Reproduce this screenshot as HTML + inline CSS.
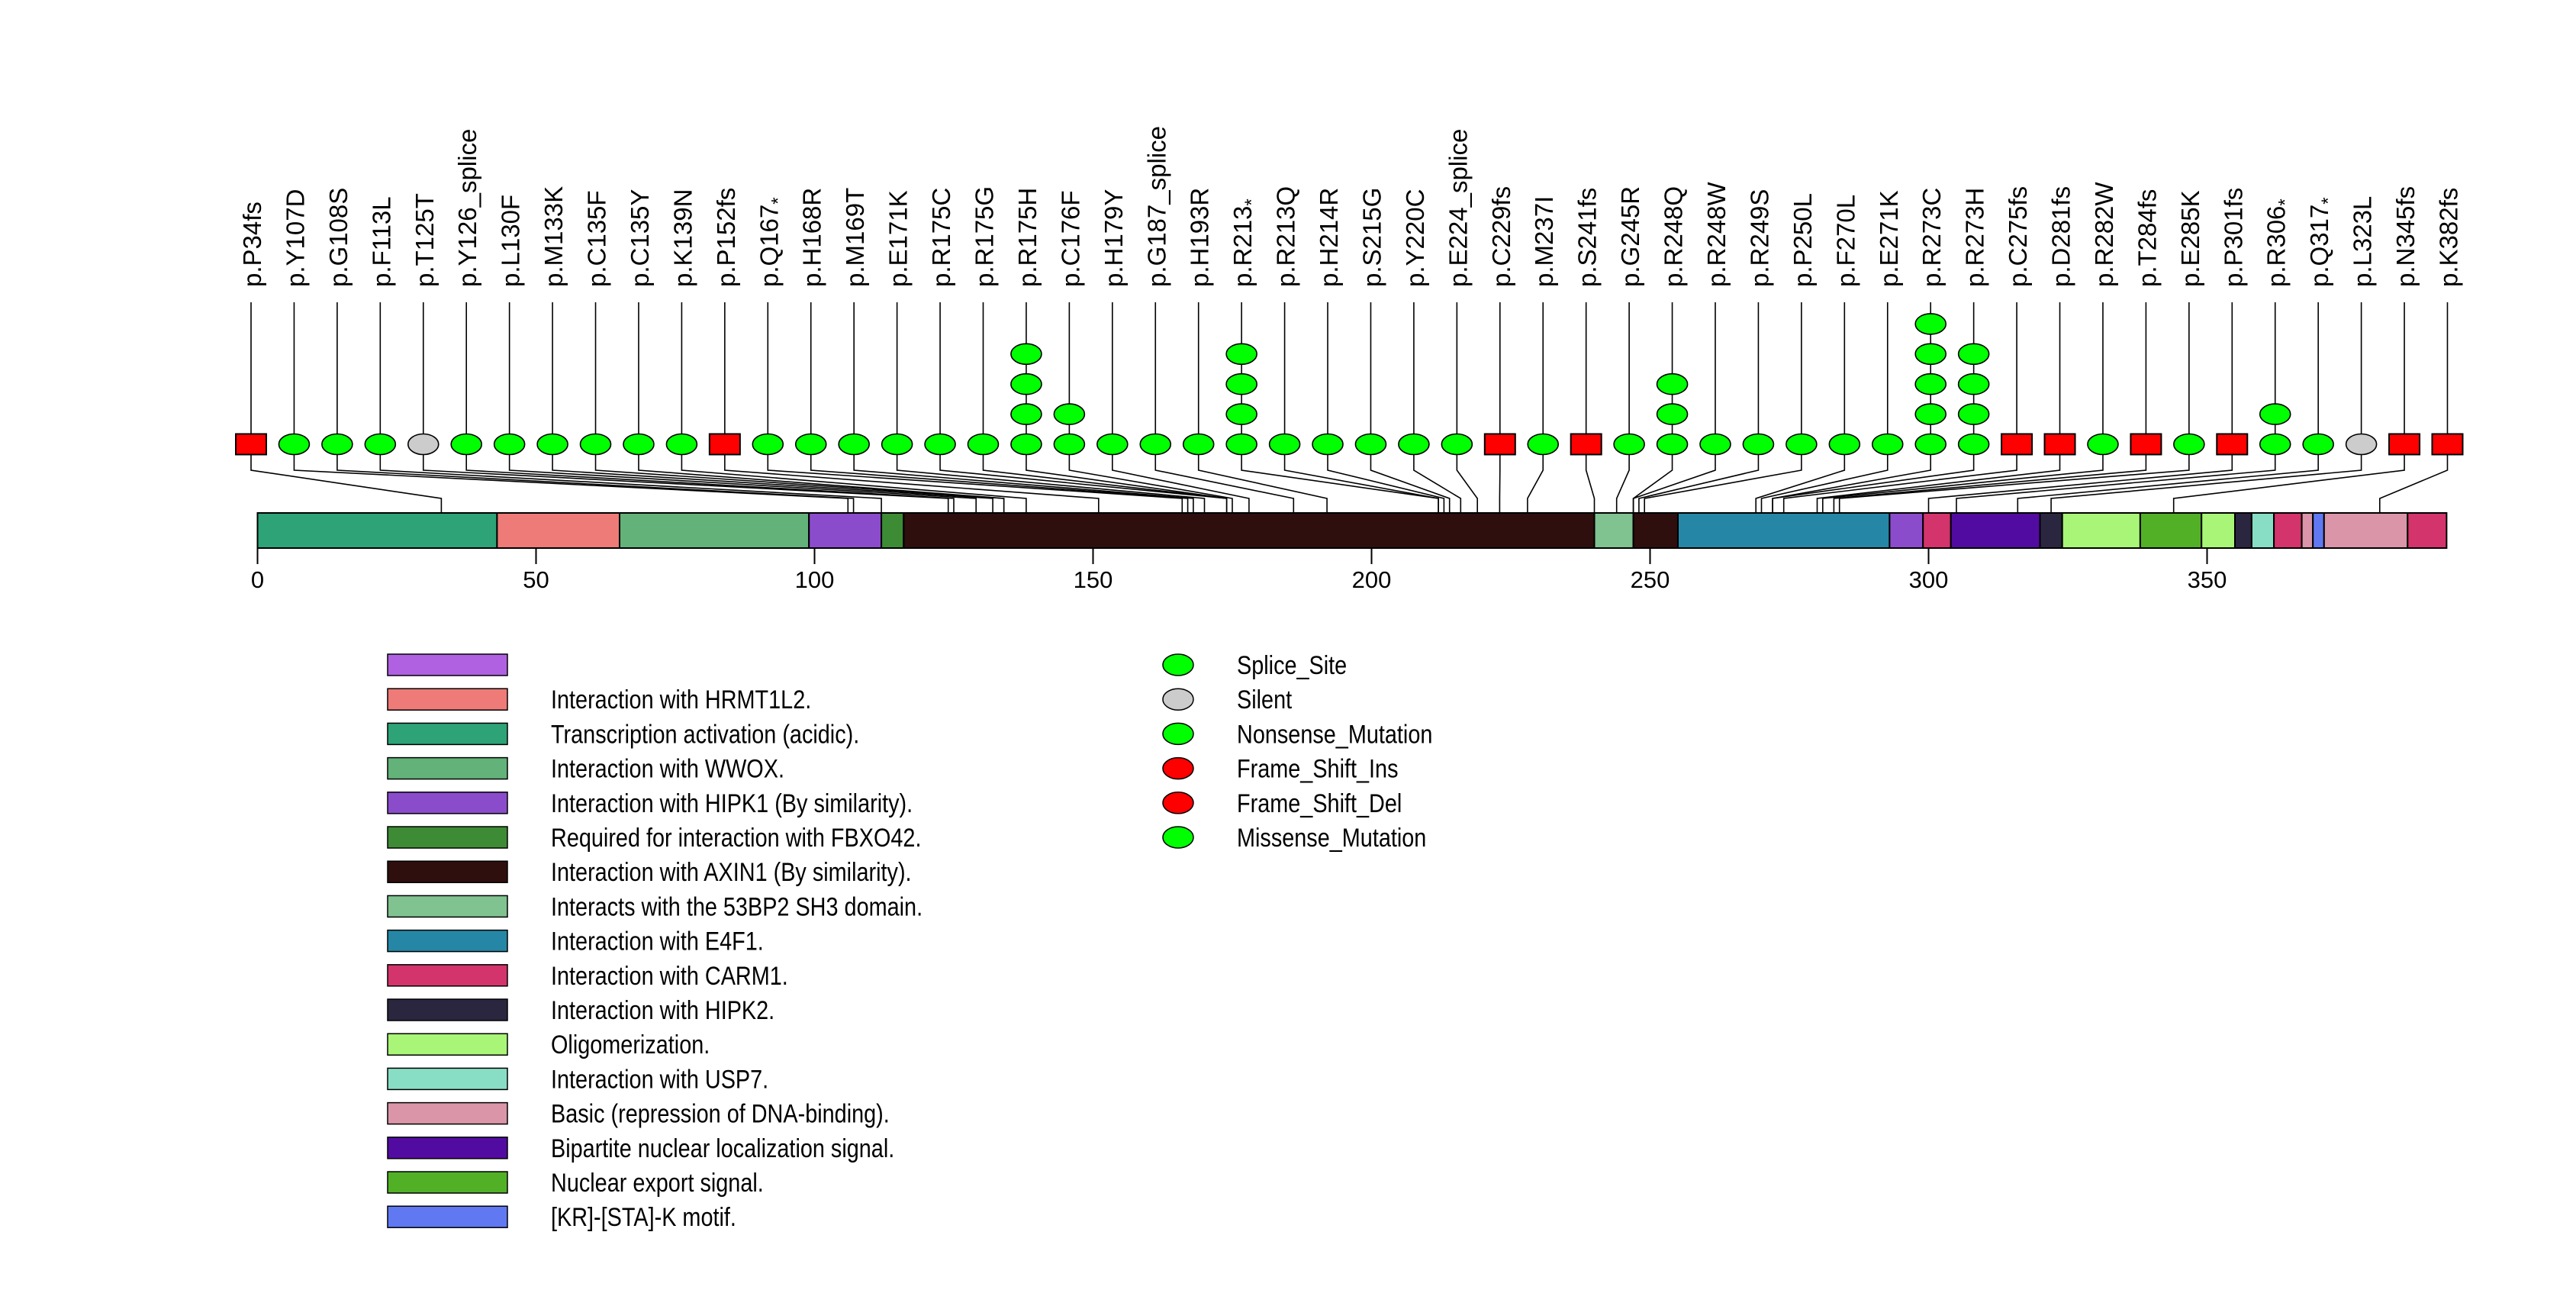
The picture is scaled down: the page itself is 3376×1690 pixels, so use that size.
<!DOCTYPE html>
<html><head><meta charset="utf-8"><style>
html,body{margin:0;padding:0;background:#fff;}
svg{display:block;font-family:"Liberation Sans",Arial,sans-serif;}
</style></head><body>
<svg id="chart" width="3376" height="1690" viewBox="0 0 3376 1690" xmlns="http://www.w3.org/2000/svg">
<rect x="0" y="0" width="3376" height="1690" fill="#fff"/>
<g id="connectors"></g>
<g id="domains"></g>
<g id="axis"></g>
<g id="muts"></g>
<g id="legend"></g>
<g id="legend2"></g>
</svg>
<script>
const mutLabels = ["p.P34fs","p.Y107D","p.G108S","p.F113L","p.T125T","p.Y126_splice","p.L130F","p.M133K","p.C135F","p.C135Y","p.K139N","p.P152fs","p.Q167*","p.H168R","p.M169T","p.E171K","p.R175C","p.R175G","p.R175H","p.C176F","p.H179Y","p.G187_splice","p.H193R","p.R213*","p.R213Q","p.H214R","p.S215G","p.Y220C","p.E224_splice","p.C229fs","p.M237I","p.S241fs","p.G245R","p.R248Q","p.R248W","p.R249S","p.P250L","p.F270L","p.E271K","p.R273C","p.R273H","p.C275fs","p.D281fs","p.R282W","p.T284fs","p.E285K","p.P301fs","p.R306*","p.Q317*","p.L323L","p.N345fs","p.K382fs"];
const mutPos = [33,106,107,112,124,125,129,132,134,134,138,151,166,167,168,170,174,174,174,175,178,186,192,212,212,213,214,216,219,223,228,240,244,247,247,248,249,269,270,272,272,274,280,281,283,284,300,305,316,322,344,381];
const mutCount = [1,1,1,1,1,1,1,1,1,1,1,1,1,1,1,1,1,1,4,2,1,1,1,4,1,1,1,1,1,1,1,1,1,3,1,1,1,1,1,5,4,1,1,1,1,1,1,2,1,1,1,1];
const mutType = ["fs","m","m","m","s","m","m","m","m","m","m","fs","m","m","m","m","m","m","m","m","m","m","m","m","m","m","m","m","m","fs","m","fs","m","m","m","m","m","m","m","m","m","fs","fs","m","fs","m","fs","m","m","s","fs","fs"];
const domStart = [0,43,65,99,112,116,240,247,255,293,299,304,320,324,338,349,355,358,362,367,369,371,386];
const domEnd = [43,65,99,112,116,240,247,255,293,299,304,320,324,338,349,355,358,362,367,369,371,386,393];
const domColor = ["#2ea377","#ee7b77","#62b27a","#8b4ccc","#3d8b35","#2e0f0e","#80c290","#2e0f0e","#2587a5","#8b4ccc","#d3346b","#520ba0","#2b2640","#a8f577","#52b027","#a8f577","#2b2640","#88dec4","#d3346b","#da95a8","#6079f3","#da95a8","#d3346b"];
const tickValues = [0,50,100,150,200,250,300,350];
const legendNames = ["","Interaction with HRMT1L2.","Transcription activation (acidic).","Interaction with WWOX.","Interaction with HIPK1 (By similarity).","Required for interaction with FBXO42.","Interaction with AXIN1 (By similarity).","Interacts with the 53BP2 SH3 domain.","Interaction with E4F1.","Interaction with CARM1.","Interaction with HIPK2.","Oligomerization.","Interaction with USP7.","Basic (repression of DNA-binding).","Bipartite nuclear localization signal.","Nuclear export signal.","[KR]-[STA]-K motif."];
const legendColors = ["#b061e2","#ee7b77","#2ea377","#62b27a","#8b4ccc","#3d8b35","#2e0f0e","#80c290","#2587a5","#d3346b","#2b2640","#a8f577","#88dec4","#da95a8","#520ba0","#52b027","#6079f3"];
const typeNames = ["Splice_Site","Silent","Nonsense_Mutation","Frame_Shift_Ins","Frame_Shift_Del","Missense_Mutation"];
const typeColors = ["#00ff00","#cccccc","#00ff00","#ff0000","#ff0000","#00ff00"];

const NS="http://www.w3.org/2000/svg";
function mk(tag, parent, attrs){const e=document.createElementNS(NS,tag);for(const k in attrs)e.setAttribute(k,attrs[k]);parent.appendChild(e);return e;}
const xAA = aa => 337.5 + aa*7.3;
const xMarker = i => 329 + i*(3207.5-329)/(mutLabels.length-1);
const yLevel = k => 582 - k*39.4;
const barTop=672, barBot=718;

const gC=document.getElementById('connectors'), gD=document.getElementById('domains'), gA=document.getElementById('axis'), gM=document.getElementById('muts');

domStart.forEach((s,i)=>{
  const r=mk('rect',gD,{x:xAA(s),y:barTop,width:xAA(domEnd[i])-xAA(s),height:barBot-barTop,fill:domColor[i],stroke:'#000','stroke-width':2});
  
  
});

mutLabels.forEach((lab,i)=>{
  const mx=xMarker(i), px=xAA(mutPos[i]);
  const conn=mk('polyline',gC,{points:`${mx},396 ${mx},616 ${px},653 ${px},${barBot}`,fill:'none',stroke:'#000','stroke-width':1.6});
  
  
  for(let k=0;k<mutCount[i];k++){
    const cy=yLevel(k);
    let m;
    if(mutType[i]==='fs') m=mk('rect',gM,{x:mx-20,y:cy-13.5,width:40,height:27,fill:'#ff0000',stroke:'#000','stroke-width':2});
    else m=mk('ellipse',gM,{cx:mx,cy:cy,rx:20,ry:13.5,fill:mutType[i]==='s'?'#cccccc':'#00ff00',stroke:'#000','stroke-width':1.6});
    
    
  }
  const t=mk('text',gM,{x:0,y:0,transform:`translate(${mx+13},376) rotate(-90)`,'font-size':33,fill:'#000'});
  
  
  if(lab.endsWith('*')){
    t.textContent=lab.slice(0,-1);
    const sp=mk('tspan',t,{'font-size':24,dy:8});sp.textContent='*';
  } else t.textContent=lab;
});

tickValues.forEach(v=>{
  const x=xAA(v);
  const l=mk('line',gA,{x1:x,y1:barBot,x2:x,y2:739,stroke:'#000','stroke-width':2});
  
  
  const t=mk('text',gA,{x:x,y:770,'font-size':31,'text-anchor':'middle',fill:'#000'});
  t.textContent=v;
  
  
});

const gL=document.getElementById('legend');
legendNames.forEach((n,i)=>{
  const cy=871+i*45.2;
  const r=mk('rect',gL,{x:508,y:cy-14,width:157,height:28,fill:legendColors[i],stroke:'#000','stroke-width':1.5});
  
  
  const t=mk('text',gL,{x:0,y:0,transform:`translate(722,${cy+12}) scale(0.93,1.12)`,'font-size':31,fill:'#000'});
  t.textContent=n;
  
  
});
const gL2=document.getElementById('legend2');
typeNames.forEach((n,i)=>{
  const cy=871+i*45.2;
  const e=mk('ellipse',gL2,{cx:1544,cy:cy,rx:20,ry:14,fill:typeColors[i],stroke:'#000','stroke-width':1.5});
  
  
  const t=mk('text',gL2,{x:0,y:0,transform:`translate(1621,${cy+12}) scale(0.93,1.12)`,'font-size':31,fill:'#000'});
  t.textContent=n;
  
  
});
</script>
</body></html>
